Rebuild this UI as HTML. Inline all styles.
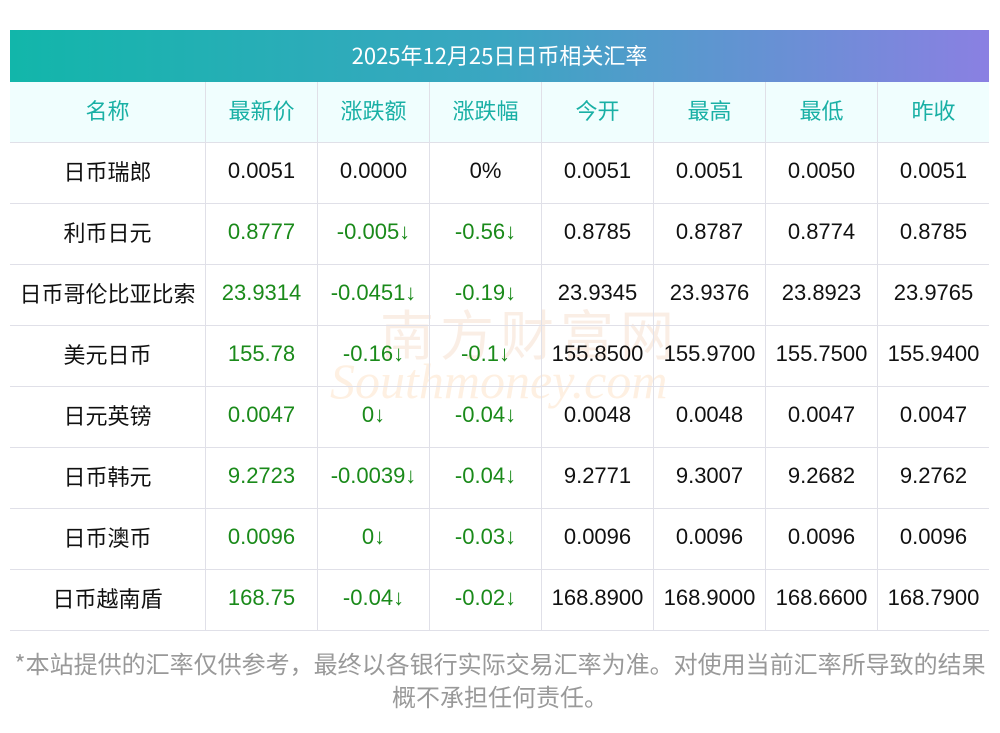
<!DOCTYPE html><html><head><meta charset="utf-8"><style>
body{margin:0;width:1000px;height:733px;background:#fff;font-family:"Liberation Sans","Noto Sans CJK SC",sans-serif;position:relative;overflow:hidden}
.t{position:absolute;left:10px;top:30px;width:979px;height:52px;background:linear-gradient(90deg,#12b6aa,#3ba6c2 50%,#8a80e2);color:#fff;font-size:22px;text-align:center;line-height:50px;font-family:"Noto Sans CJK SC",sans-serif}
.tb{position:absolute;left:10px;top:82px;width:979px}
.r{display:flex;height:60px;border-bottom:1px solid #e0e0e8}
.r div{height:60px;display:flex;align-items:center;justify-content:center;font-size:22px;color:#111;white-space:nowrap;border-left:1px solid #e0e0e8;width:112px;flex:none;padding-bottom:4px;box-sizing:border-box}
.r div:first-child{width:195px;border-left:none;font-family:"Noto Sans CJK SC",sans-serif}
.h{background:#f0fefe}
.h div{color:#19b0a5!important;font-family:"Noto Sans CJK SC",sans-serif}
.g{color:#1a8a1a!important}
.f{position:absolute;left:0;width:1000px;top:646px;text-align:center;font-size:24px;color:#999;line-height:33px;white-space:nowrap;font-family:"Noto Sans CJK SC",sans-serif}
.w{position:absolute;left:380px;top:292px;font-size:54px;color:rgba(240,200,170,.3);letter-spacing:6px;font-family:"Noto Sans CJK SC",sans-serif}
.w2{position:absolute;left:330px;top:352px;font-size:50px;font-style:italic;font-family:"Liberation Serif",serif;color:rgba(250,200,150,.28)}
</style></head><body>
<div class="t">2025年12月25日日币相关汇率</div>
<div class="w">南方财富网</div><div class="w2">Southmoney.com</div>
<div class="tb">
<div class="r h"><div>名称</div><div>最新价</div><div>涨跌额</div><div>涨跌幅</div><div>今开</div><div>最高</div><div>最低</div><div>昨收</div></div>
<div class="r"><div>日币瑞郎</div><div>0.0051</div><div>0.0000</div><div>0%</div><div>0.0051</div><div>0.0051</div><div>0.0050</div><div>0.0051</div></div>
<div class="r"><div>利币日元</div><div class="g">0.8777</div><div class="g">-0.005↓</div><div class="g">-0.56↓</div><div>0.8785</div><div>0.8787</div><div>0.8774</div><div>0.8785</div></div>
<div class="r"><div>日币哥伦比亚比索</div><div class="g">23.9314</div><div class="g">-0.0451↓</div><div class="g">-0.19↓</div><div>23.9345</div><div>23.9376</div><div>23.8923</div><div>23.9765</div></div>
<div class="r"><div>美元日币</div><div class="g">155.78</div><div class="g">-0.16↓</div><div class="g">-0.1↓</div><div>155.8500</div><div>155.9700</div><div>155.7500</div><div>155.9400</div></div>
<div class="r"><div>日元英镑</div><div class="g">0.0047</div><div class="g">0↓</div><div class="g">-0.04↓</div><div>0.0048</div><div>0.0048</div><div>0.0047</div><div>0.0047</div></div>
<div class="r"><div>日币韩元</div><div class="g">9.2723</div><div class="g">-0.0039↓</div><div class="g">-0.04↓</div><div>9.2771</div><div>9.3007</div><div>9.2682</div><div>9.2762</div></div>
<div class="r"><div>日币澳币</div><div class="g">0.0096</div><div class="g">0↓</div><div class="g">-0.03↓</div><div>0.0096</div><div>0.0096</div><div>0.0096</div><div>0.0096</div></div>
<div class="r"><div>日币越南盾</div><div class="g">168.75</div><div class="g">-0.04↓</div><div class="g">-0.02↓</div><div>168.8900</div><div>168.9000</div><div>168.6600</div><div>168.7900</div></div>
</div>
<div class="f">*本站提供的汇率仅供参考，最终以各银行实际交易汇率为准。对使用当前汇率所导致的结果<br>概不承担任何责任。</div>
</body></html>
